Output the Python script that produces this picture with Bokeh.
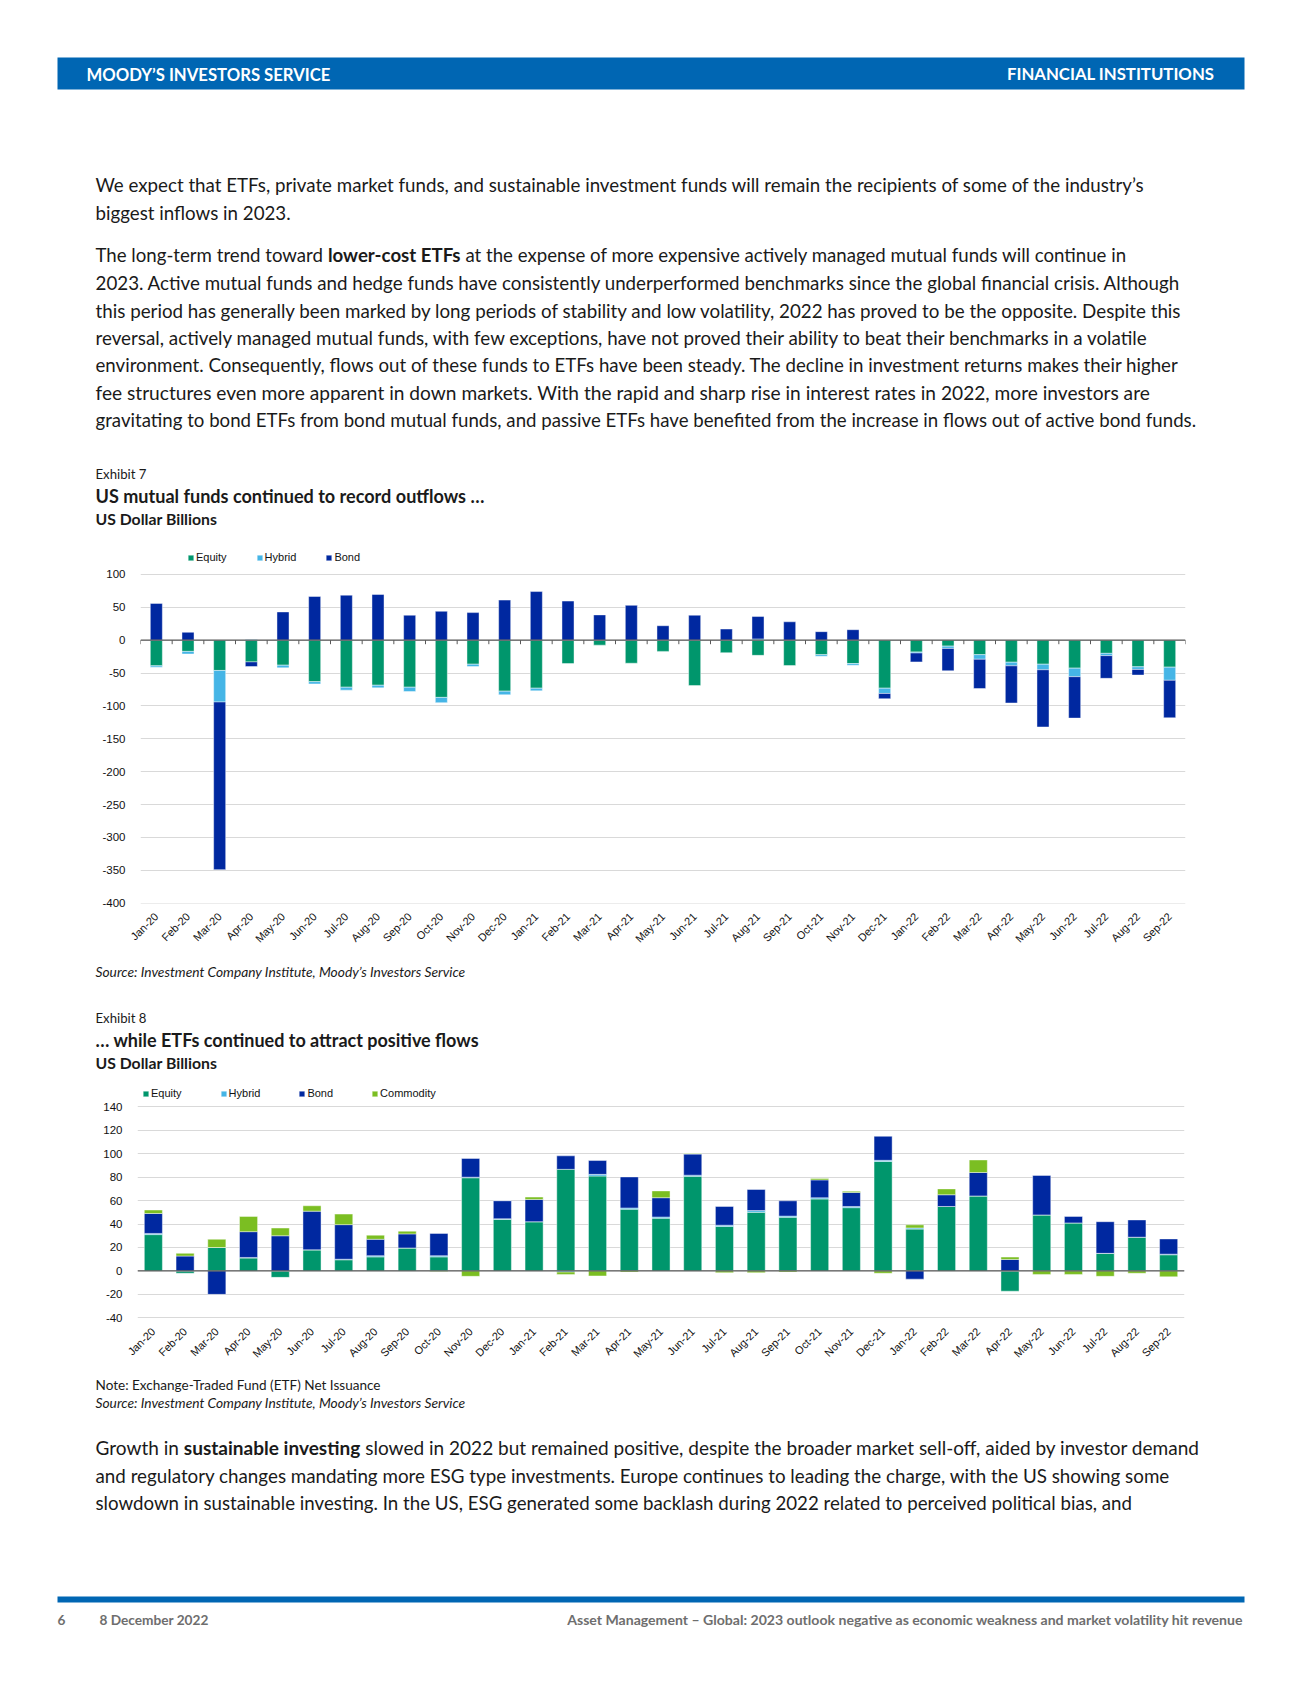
import os, glob, math, subprocess
from bokeh.plotting import figure
from bokeh.models import ColumnDataSource, Range1d, FixedTicker, Span, Legend, LegendItem
from bokeh.layouts import column
from bokeh.core.properties import value
from bokeh.embed import file_html
from bokeh.resources import INLINE

try:
    from PIL import ImageFont
except Exception:
    ImageFont = None

# ---------------- data ----------------
months = ["Jan-20", "Feb-20", "Mar-20", "Apr-20", "May-20", "Jun-20", "Jul-20", "Aug-20", "Sep-20", "Oct-20", "Nov-20", "Dec-20",
          "Jan-21", "Feb-21", "Mar-21", "Apr-21", "May-21", "Jun-21", "Jul-21", "Aug-21", "Sep-21", "Oct-21", "Nov-21", "Dec-21",
          "Jan-22", "Feb-22", "Mar-22", "Apr-22", "May-22", "Jun-22", "Jul-22", "Aug-22", "Sep-22"]

# Exhibit 7: US mutual funds flows (USD bn)
mf_equity = [-39, -17, -46, -33, -38, -63, -71.5, -68.5, -71.5, -87, -36.5, -77.5,
             -73, -35.5, -7.5, -35, -17, -69, -19, -23, -38.5, -22, -35.5, -73,
             -18, -9, -22, -33.5, -36.5, -42.5, -20, -40.5, -41]
mf_hybrid = [-2, -4, -48, 1, -4, -3.5, -4.5, -4, -6.5, -8, -3.5, -5.5,
             -4, 0, 0, 0, 0, 0, 0, 2, 0, -2.5, -2.5, -8,
             -1.5, -3.5, -7, -5.5, -8.5, -13, -3.5, -4, -20]
mf_bond = [56, 12, -255, -7, 43, 66.5, 68.5, 69.5, 38, 44, 42, 61,
           74, 59.5, 38.5, 53, 22, 38, 17, 34, 28, 13, 16, -8,
           -13.5, -34, -44.5, -56.5, -87, -63, -34.5, -8.5, -57]
mf_yticks = [-400, -350, -300, -250, -200, -150, -100, -50, 0, 50, 100]

# Exhibit 8: ETF net issuance (USD bn)
etf_equity = [31, -2, 20, 11, -5.5, 18, 9.5, 12, 19.6, 12, 79.5, 44,
              42, 86.7, 81, 52.7, 45, 80.7, 38, 50, 45.8, 61.4, 54, 93.4,
              35.7, 55, 64, -17.3, 47.8, 41, 15, 28.8, 13.8]
etf_hybrid = [1, 0, 0, 0.5, 0, 0, 0.5, 1, 0, 1, 0.5, 0.5,
              0, -1, 1.4, 1, 1, 1, 1, 1.5, 1, 1, 1, 1,
              1, 0, 0, 0, 0, 0, 0, 0, 0.5]
etf_bond = [17, 12.7, -20, 22, 30, 33, 29.5, 14, 12, 19, 16, 15.5,
            19, 11.5, 11.8, 26.5, 16.5, 18, 16, 18, 13, 15.3, 12, 20.5,
            -7, 10, 20, 9.8, 33.7, 5.5, 27, 14.7, 13]
etf_commodity = [3, 2.3, 7, 13, 6.6, 4.6, 9, 3.5, 2.3, -0.5, -4.6, 0,
                 2, -2, -4.3, -1, 5.8, 0.5, -1.5, -1.5, -1, 1.2, 1, -2,
                 2.6, 5, 10.7, 2, -3, -3, -4.6, -2, -5]
etf_yticks = [-40, -20, 0, 20, 40, 60, 80, 100, 120, 140]

series_names_mf = ["Equity", "Hybrid", "Bond"]
series_names_etf = ["Equity", "Hybrid", "Bond", "Commodity"]

# ---------------- style ----------------
C_EQUITY = "#00966C"
C_HYBRID = "#45B5E6"
C_BOND = "#0028A0"
C_COMMOD = "#7BBE22"
BLUE = "#0066B3"
TEXT = "#1a1a1a"
GREY = "#6E6E6E"
BODY = "Lato"
CHART_FONT = "Liberation Sans"
W = 1300

# ---------------- font measuring ----------------
STYLE_NAME = {"normal": "Regular", "bold": "Bold", "italic": "Italic", "bold italic": "BoldItalic"}
_paths = {}
_fonts = {}


def find_font(family, style):
    key = (family, style)
    if key in _paths:
        return _paths[key]
    pat = STYLE_NAME[style]
    fam = family.replace(" ", "").lower()
    found = None
    try:
        out = subprocess.run(["fc-match", "-f", "%{file}", f"{family}:style={pat}"],
                             capture_output=True, text=True, timeout=5).stdout.strip()
        b = os.path.basename(out).lower().replace("-", "").replace("_", "").replace(" ", "")
        if out and os.path.exists(out) and b.startswith(fam):
            found = out
    except Exception:
        pass
    if found is None:
        for root in ["/usr/share/fonts", "/usr/local/share/fonts", os.path.expanduser("~/.fonts"),
                     os.path.expanduser("~/.local/share/fonts")]:
            for f in glob.glob(root + "/**/*", recursive=True):
                b = os.path.basename(f).lower().replace("-", "").replace("_", "").replace(" ", "")
                if b.endswith((".ttf", ".otf")) and b[:-4] == fam + pat.lower():
                    found = f
                    break
            if found:
                break
    _paths[key] = found
    return found


def measure(text, style="normal", size=100.0, family=BODY):
    path = find_font(family, style) if ImageFont else None
    if path:
        try:
            if path not in _fonts:
                _fonts[path] = ImageFont.truetype(path, 200)
            return _fonts[path].getlength(text) * size / 200.0
        except Exception:
            pass
    ratio = 0.52 if "bold" in style else 0.48
    return len(text) * size * ratio


def fit(segments, target, family=BODY):
    w = sum(measure(t, st, 100.0, family) for t, st in segments)
    return 100.0 * target / w


def text_fig(y0, y1):
    p = figure(width=W, height=y1 - y0, x_range=Range1d(0, W), y_range=Range1d(y1, y0),
               x_axis_type=None, y_axis_type=None, output_backend="svg", toolbar_location=None,
               min_border=0, frame_align=False)
    p.grid.visible = False
    p.outline_line_color = None
    return p


def put(p, x, y, text, size, style="normal", color=TEXT, align="left", family=BODY):
    p.text(x=[x], y=[y], text=[text], text_font=value(family), text_font_size=value(f"{size:.2f}px"),
           text_font_style=style, text_color=color, text_align=align, text_baseline="middle")


def put_line(p, x, y, segments, size, color=TEXT):
    cx = x
    for t, st in segments:
        lead = len(t) - len(t.lstrip(" "))
        s = t.strip(" ")
        cx += measure(" " * lead, st, size) if lead else 0
        put(p, cx, y, s, size, st, color)
        cx += measure(t[lead:], st, size)


def paragraph(p, x, ys, lines):
    sizes = [fit(segs, tw) for segs, tw in lines]
    long_sizes = sorted(s for s, (segs, tw) in zip(sizes, lines) if tw > 600)
    med = long_sizes[len(long_sizes) // 2]
    for y, (segs, tw), s in zip(ys, lines, sizes):
        if tw <= 600:
            s = med
        s = max(med * 0.97, min(med * 1.03, s))
        put_line(p, x, y, segs, s)


def fitted(p, x, y, text, target, style="normal", color=TEXT, align="left"):
    put(p, x, y, text, fit([(text, style)], target), style, color, align)


# ---------------- top text block (page y 0..540) ----------------
top = text_fig(0, 540)
top.quad(left=[57], right=[1244], top=[57], bottom=[89], fill_color=BLUE, line_color=None)
fitted(top, 86, 74, "MOODY’S INVESTORS SERVICE", 244, "bold", "white")
fitted(top, 1214, 73, "FINANCIAL INSTITUTIONS", 207, "bold", "white", "right")

N = "normal"
B = "bold"
paragraph(top, 95, [184, 212], [
    ([("We expect that ETFs, private market funds, and sustainable investment funds will remain the recipients of some of the industry’s", N)], 1049),
    ([("biggest inflows in 2023.", N)], 193),
])
paragraph(top, 95, [254.5, 282, 309.5, 337, 364.5, 392, 419.5], [
    ([("The long-term trend toward ", N), ("lower-cost ETFs", B), (" at the expense of more expensive actively managed mutual funds will continue in", N)], 1031),
    ([("2023. Active mutual funds and hedge funds have consistently underperformed benchmarks since the global financial crisis. Although", N)], 1084),
    ([("this period has generally been marked by long periods of stability and low volatility, 2022 has proved to be the opposite. Despite this", N)], 1085),
    ([("reversal, actively managed mutual funds, with few exceptions, have not proved their ability to beat their benchmarks in a volatile", N)], 1052),
    ([("environment. Consequently, flows out of these funds to ETFs have been steady. The decline in investment returns makes their higher", N)], 1083),
    ([("fee structures even more apparent in down markets. With the rapid and sharp rise in interest rates in 2022, more investors are", N)], 1055),
    ([("gravitating to bond ETFs from bond mutual funds, and passive ETFs have benefited from the increase in flows out of active bond funds.", N)], 1101),
])
fitted(top, 95, 473, "Exhibit 7", 51)
fitted(top, 95, 495, "US mutual funds continued to record outflows …", 389, "bold")
fitted(top, 95, 518, "US Dollar Billions", 121.5, "bold")


# ---------------- charts ----------------
def stacked_chart(series, colors, names, yticks, y0, y1, height, b_left, b_right, b_top, b_bottom,
                  bar_width, legend_xy, legend_spacing, zero_ticks):
    n = len(months)
    p = figure(width=W, height=height, x_range=Range1d(-0.5, n - 0.5), y_range=Range1d(y0, y1),
               output_backend="svg", toolbar_location=None, frame_align=False,
               min_border_left=b_left, min_border_right=b_right, min_border_top=b_top,
               min_border_bottom=b_bottom)
    p.outline_line_color = None
    pos = [0.0] * n
    neg = [0.0] * n
    items = []
    for vals, col, name in zip(series, colors, names):
        bottoms, tops = [], []
        for i, v in enumerate(vals):
            if v >= 0:
                b = pos[i]; t = b + v; pos[i] = t
            else:
                b = neg[i]; t = b + v; neg[i] = t
            bottoms.append(b); tops.append(t)
        src = ColumnDataSource(dict(x=list(range(n)), bottom=bottoms, top=tops))
        r = p.vbar(x="x", bottom="bottom", top="top", width=bar_width, source=src,
                   fill_color=col, line_color="white", line_alpha=0.55, line_width=0.8)
        items.append(LegendItem(label=name, renderers=[r]))
    # zero line
    p.add_layout(Span(location=0, dimension="width", line_color="#595959", line_width=1.3))
    if zero_ticks:
        bx = [i - 0.5 for i in range(n + 1)]
        p.ray(x=bx, y=[0] * len(bx), length=4, length_units="screen", angle=-math.pi / 2,
              line_color="#595959", line_width=1)
    # axes
    p.yaxis.ticker = FixedTicker(ticks=yticks)
    p.yaxis.major_label_overrides = {v: str(v) for v in yticks}
    p.ygrid.ticker = FixedTicker(ticks=yticks)
    p.ygrid.grid_line_color = "#D9D9D9"
    p.ygrid.grid_line_width = 1
    p.xgrid.grid_line_color = None
    for ax in (p.yaxis[0], p.xaxis[0]):
        ax.axis_line_color = None
        ax.major_tick_line_color = None
        ax.minor_tick_line_color = None
        ax.major_label_text_font = CHART_FONT
        ax.major_label_text_font_size = "11.5px"
        ax.major_label_text_color = "#111111"
    p.yaxis.major_label_standoff = 9
    p.xaxis.ticker = FixedTicker(ticks=list(range(n)))
    p.xaxis.major_label_overrides = {i: m for i, m in enumerate(months)}
    p.xaxis.major_label_orientation = math.pi / 4
    p.xaxis.major_label_standoff = 5
    p.xaxis.major_label_text_font_size = "11px"
    leg = Legend(items=items, orientation="horizontal", location=legend_xy,
                 glyph_width=7, glyph_height=7, label_standoff=2, spacing=legend_spacing,
                 padding=0, margin=0, border_line_color=None, background_fill_alpha=0,
                 label_text_font=CHART_FONT, label_text_font_size="11px", label_height=11,
                 label_text_color="#111111")
    p.add_layout(leg)
    return p


chart1 = stacked_chart([mf_equity, mf_hybrid, mf_bond], [C_EQUITY, C_HYBRID, C_BOND], series_names_mf,
                       mf_yticks, -400.5, 139.5, 420, 140, 115, 8, 57, 0.38, (47, 340), 29, True)

mid = text_fig(960, 1077)
fitted(mid, 95, 971, "Source: Investment Company Institute, Moody’s Investors Service", 370, "italic")
fitted(mid, 95, 1017, "Exhibit 8", 51)
fitted(mid, 95, 1039, "… while ETFs continued to attract positive flows", 383, "bold")
fitted(mid, 95, 1062, "US Dollar Billions", 121.5, "bold")

chart2 = stacked_chart([etf_equity, etf_hybrid, etf_bond, etf_commodity],
                       [C_EQUITY, C_HYBRID, C_BOND, C_COMMOD], series_names_etf,
                       etf_yticks, -40.6, 160.8, 294, 137, 116, 5, 53, 0.57, (5, 219), 38, False)

bot = text_fig(1371, 1680)
fitted(bot, 95, 1384, "Note: Exchange-Traded Fund (ETF) Net Issuance", 285)
fitted(bot, 95, 1402, "Source: Investment Company Institute, Moody’s Investors Service", 370, "italic")
paragraph(bot, 95, [1447, 1474.5, 1502], [
    ([("Growth in ", N), ("sustainable investing", B), (" slowed in 2022 but remained positive, despite the broader market sell-off, aided by investor demand", N)], 1104),
    ([("and regulatory changes mandating more ESG type investments. Europe continues to leading the charge, with the US showing some", N)], 1075),
    ([("slowdown in sustainable investing. In the US, ESG generated some backlash during 2022 related to perceived political bias, and", N)], 1037),
])
bot.quad(left=[57], right=[1244], top=[1596], bottom=[1602], fill_color=BLUE, line_color=None)
fs = fit([("8 December 2022", "bold")], 109)
put(bot, 57, 1619, "6", fs, "bold", GREY)
put(bot, 99, 1619, "8 December 2022", fs, "bold", GREY)
fitted(bot, 1243, 1619, "Asset Management – Global: 2023 outlook negative as economic weakness and market volatility hit revenue",
       676, "bold", GREY, "right")

page = column(top, chart1, mid, chart2, bot, spacing=0)
open("out.html", "w").write(file_html(page, INLINE))
